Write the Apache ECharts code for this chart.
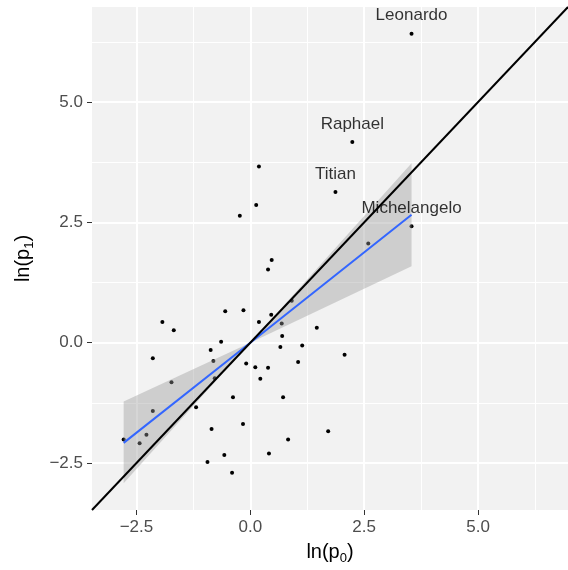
<!DOCTYPE html>
<html><head><meta charset="utf-8">
<script src="https://cdn.jsdelivr.net/npm/echarts@6/dist/echarts.min.js"></script>
<style>html,body{margin:0;padding:0;background:#fff}#c{width:568px;height:570px}</style>
</head><body><div id="c"></div>
<script>
// ln(p0) and ln(p1) for every painter
const lnP0 = [-0.55,-0.15,-1.93,-1.68,0.19,-0.64,-0.87,-0.81,-2.14,-0.09,0.11,0.39,0.22,-0.78,-1.73,-0.38,-1.19,-2.14,-0.85,-0.16,-2.78,-2.43,-2.28,-0.57,-0.94,-0.40,0.41,2.24,0.19,1.87,0.13,-0.23,2.59,0.47,0.39,0.91,0.46,0.69,1.46,0.70,0.66,1.14,2.07,1.05,0.72,1.71,0.83,3.54,3.54];
const lnP1 = [0.655,0.676,0.43,0.26,0.43,0.02,-0.15,-0.38,-0.32,-0.43,-0.51,-0.52,-0.75,-0.74,-0.82,-1.13,-1.34,-1.42,-1.79,-1.69,-2.01,-2.09,-1.91,-2.33,-2.48,-2.70,-2.30,4.17,3.66,3.13,2.86,2.64,2.06,1.72,1.52,0.87,0.58,0.40,0.31,0.14,-0.09,-0.06,-0.25,-0.40,-1.13,-1.84,-2.01,6.42,2.42];
const painters = ['','','','','','','','','','','','','','','','','','','','','','','','','','','','Raphael','','Titian','','','','','','','','','','','','','','','','','','Leonardo','Michelangelo'];
// fitted line through origin with its confidence band
const fitX = [-2.78, 0, 3.54];
const fitY = [-2.08, 0, 2.66];
const bandLow = [-2.92, 0, 1.59];
const bandHigh = [-1.22, 0, 3.73];
// axis range and ticks
const axisMin = -3.475, axisMax = 6.975;
const majorTicks = [-2.5, 0, 2.5, 5];
const minorTicks = [-1.25, 1.25, 3.75, 6.25];

const FONT = "'Liberation Sans', Arial, sans-serif";
const fmt = v => v.toFixed(1).replace('-', '\u2212');

function mainAxis(extra) {
  return Object.assign({
    type: 'value', min: axisMin, max: axisMax,
    axisLine: {show: false, onZero: false},
    axisTick: {show: true, customValues: majorTicks, length: 5, lineStyle: {color: '#333333', width: 1}},
    axisLabel: {show: true, customValues: majorTicks, formatter: fmt, color: '#4D4D4D', fontSize: 17, fontFamily: FONT, margin: 9},
    splitLine: {show: true, lineStyle: {color: '#FFFFFF', width: 2}},
    nameTextStyle: {color: '#000', fontFamily: FONT, fontSize: 20,
      rich: {a: {fontSize: 20, lineHeight: 26, fontFamily: FONT, color: '#000'},
             s: {fontSize: 13, lineHeight: 13, verticalAlign: 'bottom', fontFamily: FONT, color: '#000'}}}
  }, extra);
}
function minorAxis(extra) {
  return Object.assign({
    type: 'value', min: axisMin, max: axisMax,
    axisLine: {show: false, onZero: false},
    axisTick: {show: false, customValues: minorTicks},
    axisLabel: {show: false, customValues: minorTicks},
    splitLine: {show: true, lineStyle: {color: '#FFFFFF', width: 1}}
  }, extra);
}

const pts = lnP0.map((x, i) => [x, lnP1[i]]);
const labelled = [];
painters.forEach((n, i) => { if (n) labelled.push({name: n, value: [lnP0[i], lnP1[i]]}); });

const chart = echarts.init(document.getElementById('c'), null, {renderer: 'canvas'});
chart.setOption({
  animation: false,
  backgroundColor: '#FFFFFF',
  textStyle: {fontFamily: FONT},
  grid: {left: 92, right: 0, top: 7, bottom: 60, show: true, backgroundColor: '#F2F2F2', borderWidth: 0, containLabel: false, outerBoundsMode: 'none'},
  xAxis: [
    mainAxis({position: 'bottom', name: '{a|ln(p}{s|0}{a|)}', nameLocation: 'middle', nameGap: 29}),
    minorAxis({position: 'bottom'})
  ],
  yAxis: [
    mainAxis({position: 'left', name: '{a|ln(p}{s|1}{a|)}', nameLocation: 'middle', nameGap: 56, nameRotate: 90}),
    minorAxis({position: 'left'})
  ],
  series: [
    {type: 'scatter', data: pts, symbolSize: 4, itemStyle: {color: '#000', opacity: 1}, z: 2, silent: true},
    {type: 'custom', data: fitX.map((x, i) => [x, bandLow[i], bandHigh[i]]),
     encode: {x: 0, y: [1, 2]}, z: 3, silent: true, clip: true,
     renderItem: (params, api) => {
       if (params.dataIndex !== 0) return null;
       const upper = fitX.map((x, i) => api.coord([x, bandHigh[i]]));
       const lower = fitX.map((x, i) => api.coord([x, bandLow[i]])).reverse();
       return {type: 'polygon', shape: {points: upper.concat(lower)}, style: {fill: 'rgba(153,153,153,0.4)'}};
     }},
    {type: 'line', data: fitX.map((x, i) => [x, fitY[i]]), symbol: 'none',
     lineStyle: {color: '#3366FF', width: 2}, z: 4, silent: true},
    {type: 'line', data: [[axisMin, axisMin], [axisMax, axisMax]], symbol: 'none',
     lineStyle: {color: '#000000', width: 2}, z: 5, silent: true},
    {type: 'scatter', data: labelled, symbolSize: 1, itemStyle: {color: 'rgba(0,0,0,0)'}, z: 6, silent: true,
     label: {show: true, position: 'top', distance: 9, formatter: p => p.name, color: '#000', fontSize: 17, fontFamily: FONT}}
  ]
});
</script></body></html>
